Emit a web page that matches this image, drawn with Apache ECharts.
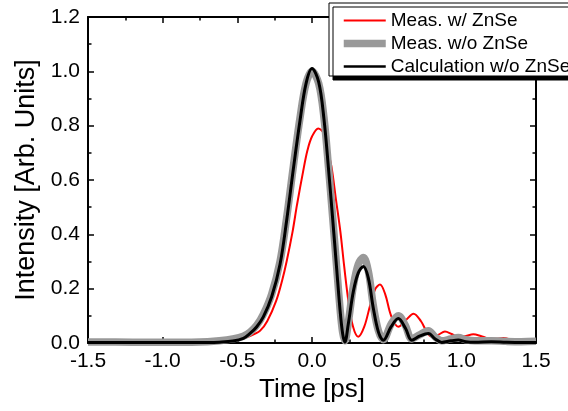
<!DOCTYPE html>
<html>
<head>
<meta charset="utf-8">
<script src="https://cdn.jsdelivr.net/npm/echarts@6/dist/echarts.min.js"></script>
<style>
html,body{margin:0;padding:0;background:#fff;}
#c{width:568px;height:411px;}
</style>
</head>
<body>
<div id="c"></div>
<script>
// ---- data ----
var xTicks = [-1.5, -1.0, -0.5, 0.0, 0.5, 1.0, 1.5];
var yTicks = [0.0, 0.2, 0.4, 0.6, 0.8, 1.0, 1.2];
var seriesNames = ['Meas. w/ ZnSe', 'Meas. w/o ZnSe', 'Calculation w/o ZnSe'];

var measZnSeTime = [-1.5,-1.0,-0.7,-0.6,-0.5,-0.42,-0.348,-0.3,-0.24,-0.2,-0.17,-0.13,-0.1,-0.06,-0.03,0.0,0.042,0.075,0.1,0.13,0.16,0.19,0.216,0.245,0.275,0.31,0.35,0.39,0.425,0.455,0.49,0.53,0.578,0.63,0.68,0.73,0.765,0.8,0.845,0.89,0.935,0.98,1.03,1.08,1.13,1.18,1.23,1.28,1.35,1.42,1.5];
var measZnSeValue = [0.003,0.003,0.004,0.006,0.012,0.025,0.045,0.08,0.155,0.23,0.3,0.41,0.51,0.63,0.71,0.76,0.79,0.775,0.72,0.65,0.53,0.41,0.28,0.15,0.06,0.023,0.06,0.14,0.2,0.215,0.18,0.1,0.06,0.085,0.108,0.08,0.045,0.024,0.03,0.042,0.033,0.022,0.026,0.032,0.026,0.017,0.016,0.018,0.01,0.006,0.005];

var measNoZnSeTime = [-1.5,-1.2,-0.9,-0.7,-0.62,-0.53,-0.46,-0.415,-0.37,-0.326,-0.27,-0.214,-0.17,-0.125,-0.08,-0.04,0.0,0.045,0.08,0.11,0.138,0.165,0.188,0.205,0.22,0.243,0.277,0.31,0.344,0.377,0.41,0.445,0.478,0.53,0.578,0.625,0.668,0.72,0.779,0.825,0.869,0.93,0.98,1.03,1.09,1.2,1.3,1.4,1.5];
var measNoZnSeValue = [0.004,0.003,0.003,0.005,0.008,0.015,0.025,0.04,0.065,0.105,0.18,0.3,0.46,0.65,0.83,0.955,1.0,0.955,0.83,0.65,0.465,0.28,0.125,0.04,0.008,0.075,0.21,0.29,0.315,0.265,0.14,0.045,0.012,0.07,0.1,0.065,0.015,0.03,0.045,0.022,0.008,0.015,0.02,0.012,0.008,0.008,0.006,0.005,0.006];

var calcTime = [-1.5,-1.2,-0.9,-0.7,-0.62,-0.53,-0.46,-0.415,-0.37,-0.326,-0.27,-0.214,-0.17,-0.125,-0.08,-0.04,0.0,0.045,0.08,0.11,0.138,0.165,0.188,0.205,0.22,0.243,0.277,0.31,0.344,0.377,0.41,0.445,0.478,0.53,0.578,0.625,0.668,0.72,0.779,0.825,0.869,0.93,0.98,1.03,1.09,1.2,1.3,1.4,1.5];
var calcValue = [0.002,0.002,0.002,0.002,0.003,0.007,0.017,0.035,0.06,0.096,0.17,0.29,0.45,0.64,0.82,0.955,1.01,0.96,0.825,0.645,0.46,0.275,0.12,0.035,0.003,0.07,0.19,0.258,0.282,0.24,0.13,0.04,0.01,0.06,0.09,0.055,0.01,0.025,0.035,0.015,0.002,0.008,0.011,0.005,0.003,0.005,0.003,0.002,0.002];

function zip(a, b) { return a.map(function (v, i) { return [v, b[i]]; }); }

var FONT = 'Liberation Sans, Arial, Helvetica, sans-serif';
var chart = echarts.init(document.getElementById('c'), null, {renderer: 'canvas'});

function axisCommon(isX, primary) {
  var ticks = isX ? xTicks : yTicks;
  return {
    type: 'value',
    min: ticks[0],
    max: ticks[ticks.length - 1],
    interval: ticks[1] - ticks[0],
    position: isX ? (primary ? 'bottom' : 'top') : (primary ? 'left' : 'right'),
    axisLine: {show: true, onZero: false, lineStyle: {color: '#000', width: 2}},
    axisTick: {show: true, inside: true, length: 6, lineStyle: {color: '#000', width: 1.5}},
    minorTick: {show: true, splitNumber: 2, length: 3.5, lineStyle: {color: '#000', width: 1.5}},
    splitLine: {show: false},
    axisLabel: {
      show: primary,
      color: '#000',
      fontSize: 21,
      fontFamily: FONT,
      margin: 8,
      formatter: function (v) { return v.toFixed(1); }
    }
  };
}

var xMain = axisCommon(true, true);
xMain.name = 'Time [ps]';
xMain.nameLocation = 'middle';
xMain.nameGap = 34;
xMain.nameTextStyle = {color: '#000', fontSize: 26, fontFamily: FONT};

var yMain = axisCommon(false, true);
yMain.name = 'Intensity [Arb. Units]';
yMain.nameLocation = 'middle';
yMain.nameGap = 46;
yMain.nameTextStyle = {color: '#000', fontSize: 27, fontFamily: FONT};

var legendWidths = [2, 7.5, 2.5];

var option = {
  animation: false,
  backgroundColor: '#fff',
  grid: {left: 88, right: 32, top: 17, bottom: 68, containLabel: false, outerBoundsMode: 'none'},
  xAxis: [xMain, axisCommon(true, false)],
  yAxis: [yMain, axisCommon(false, false)],
  legend: {
    show: true,
    orient: 'vertical',
    left: 329,
    top: 3,
    padding: [8, 12, 0, 11],
    itemWidth: 42,
    itemHeight: 14,
    itemGap: 4,
    backgroundColor: '#fff',
    borderColor: '#000',
    borderWidth: 1,
    borderRadius: 0,
    shadowColor: '#000',
    shadowBlur: 0,
    shadowOffsetX: 4,
    shadowOffsetY: 4,
    itemStyle: {opacity: 0, borderWidth: 0},
    textStyle: {color: '#000', fontSize: 19, fontFamily: FONT},
    data: seriesNames.map(function (n, i) {
      return {name: n, lineStyle: {width: legendWidths[i]}};
    })
  },
  series: [
    {
      name: seriesNames[0], type: 'line', data: zip(measZnSeTime, measZnSeValue),
      showSymbol: false, symbol: 'none', smooth: 0.35,
      lineStyle: {color: '#ff0000', width: 2}, itemStyle: {color: '#ff0000'}, z: 2
    },
    {
      name: seriesNames[1], type: 'line', data: zip(measNoZnSeTime, measNoZnSeValue),
      showSymbol: false, symbol: 'none', smooth: 0.35,
      lineStyle: {color: '#999999', width: 7.5}, itemStyle: {color: '#999999'}, z: 3
    },
    {
      name: seriesNames[2], type: 'line', data: zip(calcTime, calcValue),
      showSymbol: false, symbol: 'none', smooth: 0.35,
      lineStyle: {color: '#000000', width: 3}, itemStyle: {color: '#000000'}, z: 4
    }
  ]
};
chart.setOption(option);
</script>
</body>
</html>
